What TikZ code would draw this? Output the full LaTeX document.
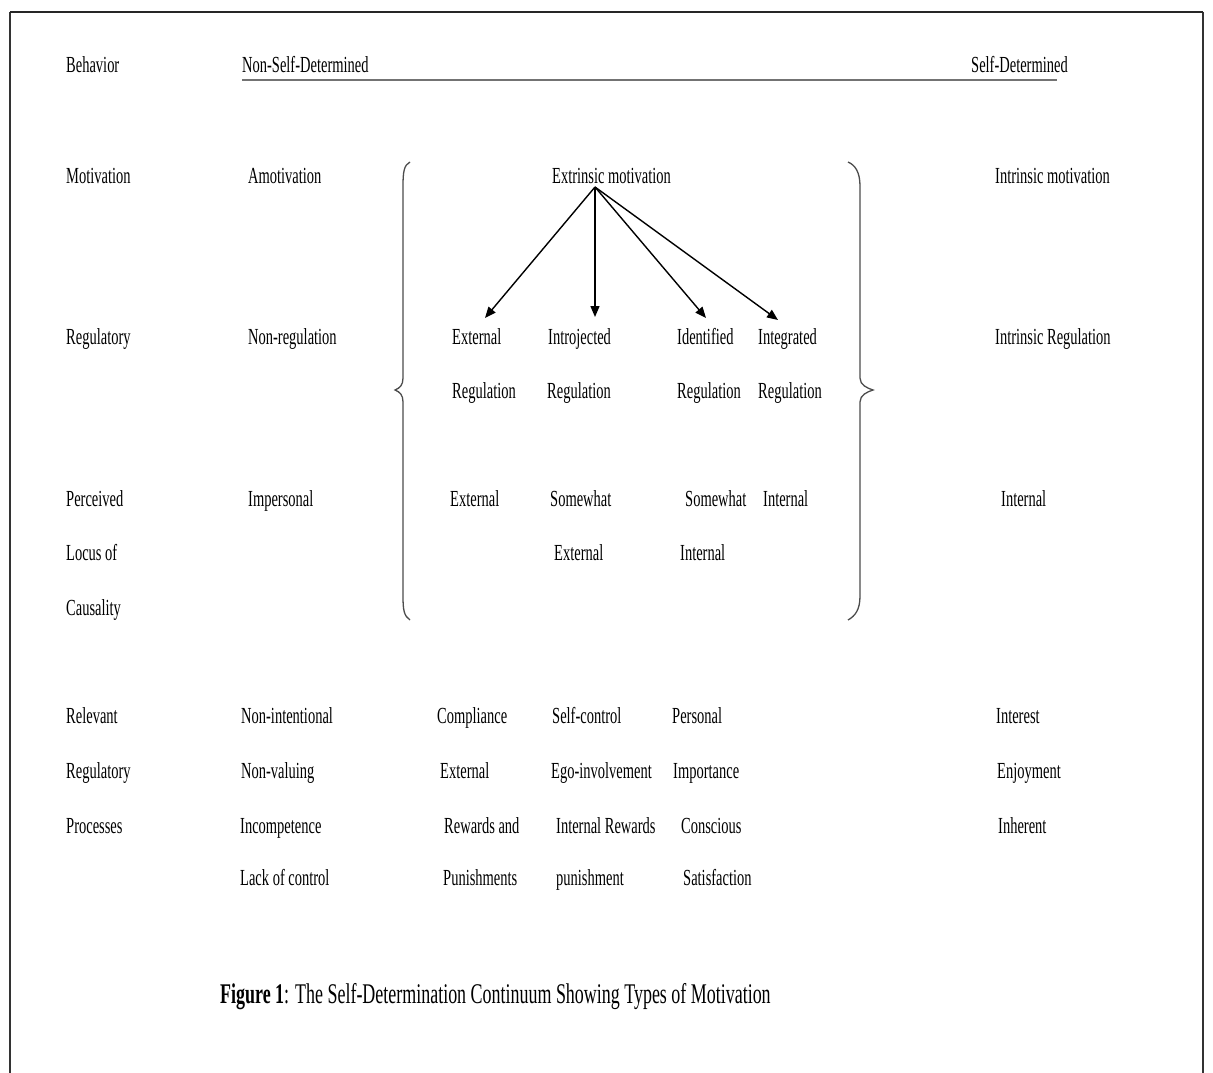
\documentclass[tikz,border=0pt]{standalone}
\usepackage{fontspec}
\setmainfont[FakeStretch=0.63]{Liberation Serif}
\usetikzlibrary{arrows.meta}
\tikzset{
  lbl/.style={anchor=base west, inner sep=0pt, text=black},
  arr/.style={line width=1.4pt, -{Triangle[length=11pt,width=9pt]}},
  brc/.style={line width=1.3pt, black!70},
  frame/.style={line width=1.4pt, black!80}
}
\begin{document}
\begin{tikzpicture}[x=1pt,y=-1pt,font=\fontsize{23}{26}\selectfont]
\useasboundingbox (0,0) rectangle (1213,1073);
\fill[white] (0,0) rectangle (1213,1073);
% frame
\coordinate (f1) at (10,1073); \coordinate (f2) at (10,12);
\coordinate (f3) at (1203,12); \coordinate (f4) at (1203,1073);
\draw[frame] (f1) -- (f2);
\draw[frame] (f3) -- (f4);
\draw[line width=2.6pt, black!85] (f2) -- (f3);
% behaviour row
\node[lbl] (beh) at (66,73) {Behavior};
\node[lbl] (nsd) at (242,73) {Non-Self-Determined};
\node[lbl] (sd) at (971,73) {Self-Determined};
\coordinate (ulA) at (242,80); \coordinate (ulB) at (1057,80);
\draw[line width=2.4pt, black!55] (ulA) -- (ulB);
% motivation row
\node[lbl] (mot) at (66,183) {Motivation};
\node[lbl] (amot) at (248,183) {Amotivation};
\node[lbl] (extr) at (552,183) {Extrinsic motivation};
\node[lbl] (intr) at (995,183) {Intrinsic motivation};
% regulatory row
\node[lbl] (reg) at (66,344) {Regulatory};
\node[lbl] (nonreg) at (248,344) {Non-regulation};
\node[lbl] (ext) at (452,344) {External};
\node[lbl] (intj) at (548,344) {Introjected};
\node[lbl] (idn) at (677,344) {Identified};
\node[lbl] (itg) at (758,344) {Integrated};
\node[lbl] (intrreg) at (995,344) {Intrinsic Regulation};
\node[lbl] (extR) at (452,398) {Regulation};
\node[lbl] (intjR) at (547,398) {Regulation};
\node[lbl] (idnR) at (677,398) {Regulation};
\node[lbl] (itgR) at (758,398) {Regulation};
% perceived locus row
\node[lbl] (perc) at (66,506) {Perceived};
\node[lbl] (imp) at (248,506) {Impersonal};
\node[lbl] (plext) at (450,506) {External};
\node[lbl] (sw1) at (550,506) {Somewhat};
\node[lbl] (sw2) at (685,506) {Somewhat};
\node[lbl] (plint) at (763,506) {Internal};
\node[lbl] (plint3) at (1001,506) {Internal};
\node[lbl] (locus) at (66,560) {Locus of};
\node[lbl] (sw1b) at (554,560) {External};
\node[lbl] (sw2b) at (680,560) {Internal};
\node[lbl] (caus) at (66,615) {Causality};
% relevant processes
\node[lbl] (rel1) at (66,723) {Relevant};
\node[lbl] (rel2) at (66,778) {Regulatory};
\node[lbl] (rel3) at (66,833) {Processes};
\node[lbl] (a1) at (241,723) {Non-intentional};
\node[lbl] (a2) at (241,778) {Non-valuing};
\node[lbl] (a3) at (240,833) {Incompetence};
\node[lbl] (a4) at (240,885) {Lack of control};
\node[lbl] (b1) at (437,723) {Compliance};
\node[lbl] (b2) at (440,778) {External};
\node[lbl] (b3) at (444,833) {Rewards and};
\node[lbl] (b4) at (443,885) {Punishments};
\node[lbl] (c1) at (552,723) {Self-control};
\node[lbl] (c2) at (551,778) {Ego-involvement};
\node[lbl] (c3) at (556,833) {Internal Rewards};
\node[lbl] (c4) at (556,885) {punishment};
\node[lbl] (d1) at (672,723) {Personal};
\node[lbl] (d2) at (673,778) {Importance};
\node[lbl] (d3) at (681,833) {Conscious};
\node[lbl] (d4) at (683,885) {Satisfaction};
\node[lbl] (e1) at (996,723) {Interest};
\node[lbl] (e2) at (997,778) {Enjoyment};
\node[lbl] (e3) at (998,833) {Inherent};
% caption
\node[lbl, font=\fontsize{28.5}{32}\selectfont] (cap) at (220,1003) {\textbf{Figure 1}: The Self-Determination Continuum Showing Types of Motivation};
% braces
\draw[brc] (410,162) .. controls (404,165) and (403,172) .. (403,186) -- (403,378)
  .. controls (403,385) and (400,388) .. (395,390)
  .. controls (400,392) and (403,395) .. (403,402) -- (403,596)
  .. controls (403,610) and (404,616) .. (410,620);
\draw[brc] (848,162) .. controls (855,165) and (860,172) .. (860,186) -- (860,378)
  .. controls (860,385) and (867,388) .. (873,390)
  .. controls (867,392) and (860,395) .. (860,402) -- (860,596)
  .. controls (860,610) and (855,616) .. (848,620);
% arrows
\coordinate (src) at (595,187);
\coordinate (t1) at (485,318);
\coordinate (t2) at (595,317);
\coordinate (t3) at (706,318);
\coordinate (t4) at (778,320);
\draw[arr] (src) -- (t1);
\draw[arr] (src) -- (t2);
\draw[arr] (src) -- (t3);
\draw[arr] (src) -- (t4);
\end{tikzpicture}
\end{document}
